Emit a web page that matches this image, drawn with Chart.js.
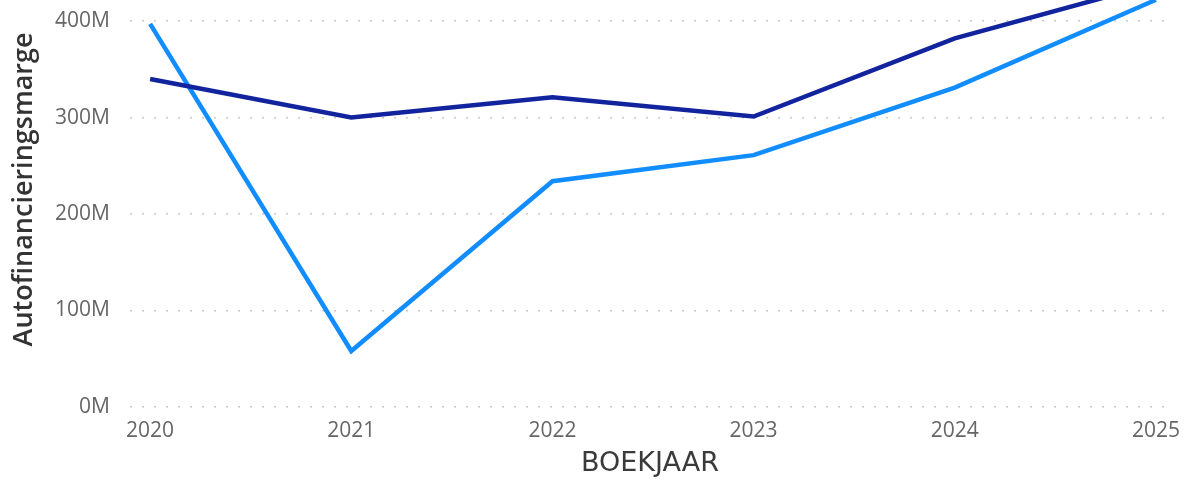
<!DOCTYPE html>
<html>
<head>
<meta charset="utf-8">
<script src="https://cdn.jsdelivr.net/npm/chart.js@4/dist/chart.umd.min.js"></script>
<style>
  html, body { margin: 0; padding: 0; background: #fff; }
  #wrap { width: 1189px; height: 480px; }
</style>
</head>
<body>
<div id="wrap"><canvas id="chart"></canvas></div>
<script>
const years = [2020, 2021, 2022, 2023, 2024, 2025];
// values in euro
const darkSeries = [340e6, 300e6, 321e6, 301e6, 382e6, 439e6];
const lightSeries = [397e6, 58e6, 234e6, 261e6, 331e6, 422e6];
const yTicks = [0, 100e6, 200e6, 300e6, 400e6];

const ctx = document.getElementById('chart').getContext('2d');
const toPoints = values => values.map((v, i) => ({ x: years[i], y: v }));

const chart = new Chart(ctx, {
    type: 'line',
    data: {
        datasets: [
            {
                label: 'Begroting',
                data: toPoints(darkSeries),
                borderColor: '#12239E',
                borderWidth: 4.5,
                pointRadius: 0,
                tension: 0,
                clip: false
            },
            {
                label: 'Realisatie',
                data: toPoints(lightSeries),
                borderColor: '#118DFF',
                borderWidth: 4.5,
                pointRadius: 0,
                tension: 0,
                clip: false
            }
        ]
    },
    options: {
        responsive: true,
        maintainAspectRatio: false,
        animation: false,
        layout: { padding: { top: 0, right: 19, bottom: 0, left: 0 } },
        plugins: {
            legend: { display: false },
            tooltip: { enabled: false }
        },
        scales: {
            x: {
                type: 'linear',
                min: 2019.9,
                max: 2025.07,
                grid: { display: false, drawTicks: false },
                border: { display: false },
                afterBuildTicks: scale => { scale.ticks = years.map(v => ({ value: v })); },
                afterFit: scale => {
                    scale.height = 73;
                    scale.paddingLeft = 0;
                    scale.paddingRight = 0;
                },
                ticks: {
                    padding: 11,
                    color: '#666666',
                    font: { family: 'Open Sans', size: 21 },
                    callback: v => String(v)
                },
                title: {
                    display: true,
                    text: 'BOEKJAAR',
                    color: '#3a3a3a',
                    font: { family: 'DejaVu Sans', size: 27 },
                    padding: { top: 0, bottom: 0 }
                }
            },
            y: {
                min: 0,
                max: 421.8e6,
                afterBuildTicks: scale => { scale.ticks = yTicks.map(v => ({ value: v })); },
                afterFit: scale => {
                    scale.width = 130;
                    scale.paddingTop = 0;
                    scale.paddingBottom = 0;
                },
                grid: {
                    color: '#c8c8c8',
                    lineWidth: 1.5,
                    drawTicks: false
                },
                border: { display: false, dash: [2, 10] },
                ticks: {
                    padding: 20,
                    color: '#666666',
                    font: { family: 'Open Sans', size: 21 },
                    callback: v => (v / 1e6) + 'M'
                },
                title: {
                    display: true,
                    // leading spaces nudge the centred title upwards
                    text: '    Autofinancieringsmarge',
                    color: '#333333',
                    font: { family: 'Open Sans', size: 27, weight: '600' },
                    padding: { top: 8, bottom: 0 }
                }
            }
        }
    }
});
</script>
</body>
</html>
